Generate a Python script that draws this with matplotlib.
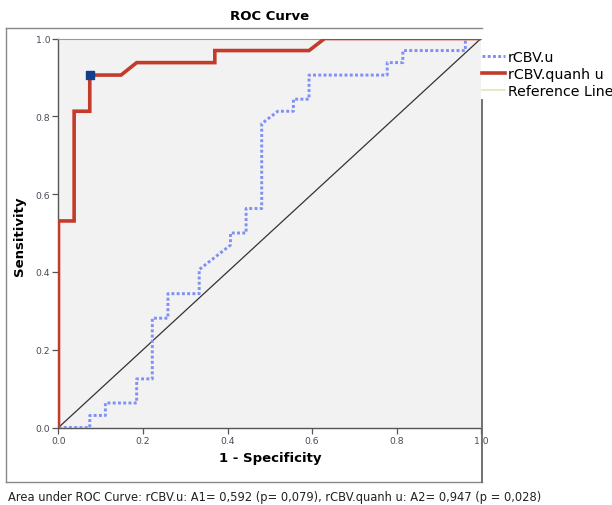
import matplotlib
matplotlib.use("Agg")
import matplotlib.pyplot as plt
from matplotlib.lines import Line2D

# ---- data ----
tick_values = [0.0, 0.2, 0.4, 0.6, 0.8, 1.0]
tick_labels = ["0.0", "0.2", "0.4", "0.6", "0.8", "1.0"]

u_fpr = [0.0, 0.074, 0.074, 0.111, 0.111, 0.185, 0.185, 0.222, 0.222, 0.259, 0.259,
         0.333, 0.333, 0.407, 0.407, 0.444, 0.444, 0.481, 0.481, 0.519, 0.556, 0.556,
         0.593, 0.593, 0.778, 0.778, 0.815, 0.815, 0.963, 0.963, 1.0]
u_tpr = [0.0, 0.0, 0.031, 0.031, 0.063, 0.063, 0.125, 0.125, 0.281, 0.281, 0.344,
         0.344, 0.406, 0.469, 0.5, 0.5, 0.563, 0.563, 0.781, 0.813, 0.813, 0.844,
         0.844, 0.906, 0.906, 0.938, 0.938, 0.969, 0.969, 1.0, 1.0]

q_fpr = [0.0, 0.0, 0.037, 0.037, 0.074, 0.074, 0.148, 0.185, 0.370, 0.370, 0.593, 0.630, 1.0]
q_tpr = [0.0, 0.531, 0.531, 0.813, 0.813, 0.906, 0.906, 0.938, 0.938, 0.969, 0.969, 1.0, 1.0]

ref_x = [0.0, 1.0]
ref_y = [0.0, 1.0]

cut_x = [0.074]
cut_y = [0.906]

series_labels = ["rCBV.u", "rCBV.quanh u", "Reference Line"]
title = "ROC Curve"
xlabel = "1 - Specificity"
ylabel = "Sensitivity"
footnote = "Area under ROC Curve: rCBV.u: A1= 0,592 (p= 0,079), rCBV.quanh u: A2= 0,947 (p = 0,028)"

# ---- figure ----
W, H = 612, 506
fig = plt.figure(figsize=(W / 100, H / 100), dpi=100)
plt.rcParams['font.family'] = ['DejaVu Sans']

def fx(px):
    return px / W

def fy(py):
    return 1 - py / H

ax = fig.add_axes([fx(58.5), fy(428.5), fx(481) - fx(58.5), fy(39.5) - fy(428.5)])
ax.set_facecolor("#f2f2f2")
ax.set_xlim(0, 1)
ax.set_ylim(0, 1)

ax.plot(ref_x, ref_y, color="#333333", lw=0.9, zorder=2)
ax.plot(u_fpr, u_tpr, color="#7f8ff5", lw=2.1, linestyle=(0, (1, 0.8)),
        dash_capstyle="butt", zorder=3)
ax.plot(q_fpr, q_tpr, color="#c43a2b", lw=2.6, zorder=4, solid_joinstyle="miter")
ax.plot(cut_x, cut_y, marker="s", markersize=5.5, color="#123f8c", linestyle="none",
        zorder=5, clip_on=False)

ax.set_xticks(tick_values)
ax.set_xticklabels(tick_labels)
ax.set_yticks(tick_values)
ax.set_yticklabels(tick_labels)
ax.tick_params(axis="both", direction="out", length=4, width=0.9, color="#555555",
               labelsize=6.7, labelcolor="#4a4a5a", pad=2)

for side in ["left", "bottom"]:
    ax.spines[side].set_color("#555555")
    ax.spines[side].set_linewidth(1.0)
ax.spines["top"].set_color("#999999")
ax.spines["top"].set_linewidth(0.8)
ax.spines["right"].set_visible(False)

# outer frame
frame_kw = dict(color="#888888", lw=1.0, transform=fig.transFigure)
fig.add_artist(Line2D([fx(6), fx(6)], [fy(29), fy(483)], **frame_kw))
fig.add_artist(Line2D([fx(6), fx(482)], [fy(29), fy(29)], **frame_kw))
fig.add_artist(Line2D([fx(6), fx(482)], [fy(483), fy(483)], **frame_kw))
fig.add_artist(Line2D([fx(481.5), fx(481.5)], [fy(101), fy(483)], color="#666666", lw=1.3,
                      transform=fig.transFigure))

# texts
fig.text(fx(270), fy(16), title, ha="center", va="center", fontsize=9.5, fontweight="bold")
fig.text(fx(270), fy(459), xlabel, ha="center", va="center", fontsize=9.5, fontweight="bold")
fig.text(fx(20), fy(236), ylabel, ha="center", va="center", rotation=90, fontsize=9.5,
         fontweight="bold")
fig.text(fx(8), fy(497.5), footnote, ha="left", va="center", fontsize=8.3, color="#222222")

# legend
handles = [
    Line2D([], [], color="#7f8ff5", lw=2.1, linestyle=(0, (1, 0.8))),
    Line2D([], [], color="#c43a2b", lw=2.6),
    Line2D([], [], color="#e4e4b8", lw=1.2),
]
fig.legend(handles, series_labels, loc="upper left", bbox_to_anchor=(fx(482), fy(51)),
           frameon=False, fontsize=10.2, handlelength=1.6, handletextpad=0.2,
           labelspacing=0.2, borderpad=0, borderaxespad=0)

fig.savefig("out.png", dpi=100)
